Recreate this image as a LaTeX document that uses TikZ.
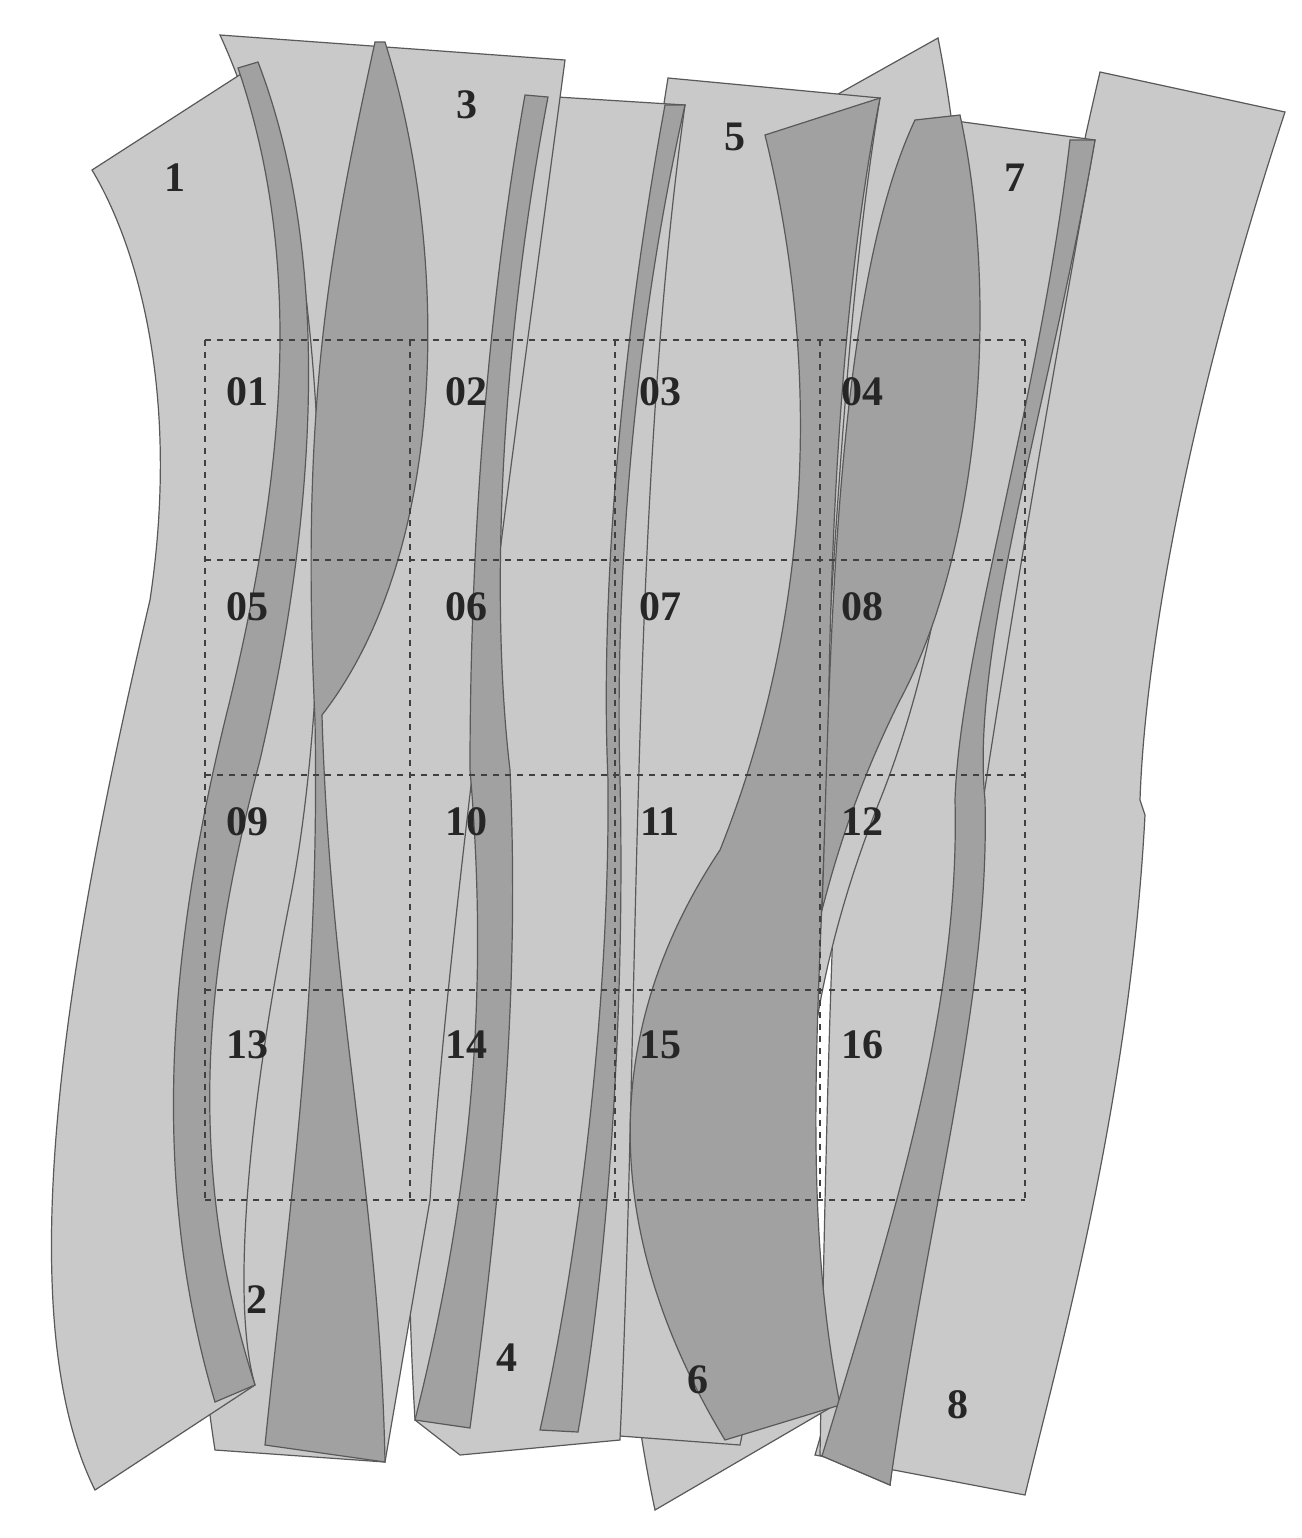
\documentclass[tikz,border=0pt]{standalone}
\usepackage{fontspec}
\setmainfont{Liberation Serif}
\begin{document}
\begin{tikzpicture}[x=0.5pt,y=-0.5pt,
  lite/.style={fill=black!21,draw=black!65,line width=0.6pt},
  dark/.style={fill=black!37,draw=black!65,line width=0.6pt},
  grid/.style={draw=black!75,dashed,line width=0.8pt},
  lab/.style={font=\fontsize{21}{21}\selectfont\bfseries,text=black!85}]
\useasboundingbox (0,0) rectangle (1302,1538);
\fill[white] (0,0) rectangle (1302,1538);
% light strips
\path[lite] (1100,72) -- (1285,112) .. controls (1190,400) and (1145,650) .. (1140,800) -- (1145,815) .. controls (1130,1100) and (1060,1350) .. (1025,1495) -- (815,1455) .. controls (950,1000) and (1000,500) .. (1100,72) -- cycle;
\path[lite] (912,115) -- (1095,140) .. controls (1030,500) and (960,900) .. (890,1485) -- (820,1455) .. controls (830,900) and (840,500) .. (912,115) -- cycle;
\path[lite] (765,135) -- (938,38) .. controls (990,300) and (960,600) .. (880,800) .. controls (800,1000) and (780,1200) .. (835,1405) -- (655,1510) .. controls (600,1250) and (620,1000) .. (740,700) .. controls (820,450) and (800,250) .. (765,135) -- cycle;
\path[lite] (668,78) -- (880,98) .. controls (830,400) and (830,800) .. (790,1100) .. controls (770,1250) and (760,1350) .. (740,1445) -- (540,1430) .. controls (600,1100) and (600,500) .. (668,78) -- cycle;
\path[lite] (525,95) -- (685,105) .. controls (630,500) and (640,1000) .. (620,1440) -- (460,1455) -- (415,1420) .. controls (390,1000) and (440,500) .. (525,95) -- cycle;
\path[lite] (220,35) -- (565,60) .. controls (520,400) and (450,900) .. (430,1200) -- (385,1462) -- (215,1450) .. controls (160,1100) and (250,700) .. (290,300) .. controls (280,200) and (250,100) .. (220,35) -- cycle;
\path[lite] (92,170) -- (255,65) .. controls (340,300) and (330,700) .. (290,900) .. controls (250,1100) and (230,1300) .. (255,1385) -- (95,1490) .. controls (0,1300) and (80,900) .. (150,600) .. controls (180,400) and (140,250) .. (92,170) -- cycle;
% dark bands
\path[dark] (238,68) -- (258,62) .. controls (330,250) and (320,500) .. (260,760) .. controls (210,950) and (180,1150) .. (255,1385) -- (215,1402) .. controls (140,1150) and (180,900) .. (230,700) .. controls (290,450) and (300,250) .. (238,68) -- cycle;
\path[dark] (375,42) -- (385,42) .. controls (450,250) and (450,550) .. (322,715) .. controls (330,1000) and (380,1200) .. (385,1462) -- (265,1445) .. controls (290,1200) and (320,1000) .. (315,720) .. controls (300,400) and (330,250) .. (375,42) -- cycle;
\path[dark] (525,95) -- (548,97) .. controls (500,350) and (490,600) .. (510,770) .. controls (520,1000) and (500,1200) .. (470,1428) -- (415,1420) .. controls (470,1200) and (490,1000) .. (470,770) .. controls (470,600) and (480,350) .. (525,95) -- cycle;
\path[dark] (665,105) -- (685,105) .. controls (630,350) and (615,600) .. (620,780) .. controls (625,1000) and (610,1250) .. (578,1432) -- (540,1430) .. controls (580,1250) and (610,1000) .. (608,780) .. controls (600,600) and (620,350) .. (665,105) -- cycle;
\path[dark] (765,135) -- (880,98) .. controls (840,300) and (830,550) .. (828,750) .. controls (820,1000) and (800,1200) .. (840,1405) -- (725,1440) .. controls (580,1200) and (620,1000) .. (720,850) .. controls (800,650) and (830,400) .. (765,135) -- cycle;
\path[dark] (915,120) -- (960,115) .. controls (1000,300) and (980,550) .. (900,700) .. controls (850,800) and (830,880) .. (822,910) .. controls (830,700) and (830,300) .. (915,120) -- cycle;
\path[dark] (1070,140) -- (1095,140) .. controls (1050,400) and (970,650) .. (985,800) .. controls (990,1000) and (930,1200) .. (890,1485) -- (822,1456) .. controls (900,1200) and (960,1000) .. (955,800) .. controls (960,650) and (1040,400) .. (1070,140) -- cycle;
% grid
\foreach \x in {205,410,615,820,1025} \draw[grid] (\x,340) -- (\x,1200);
\foreach \y in {340,560,775,990,1200} \draw[grid] (205,\y) -- (1025,\y);
\foreach \n/\x/\y in {01/247/392,02/466/392,03/660/392,04/862/392,05/247/607,06/466/607,07/660/607,08/862/607,09/247/822,10/466/822,11/660/822,12/862/822,13/247/1045,14/466/1045,15/660/1045,16/862/1045}
  \node[lab] (c\n) at (\x,\y) {\n};
\node[lab] (s1) at (175,178) {1};
\node[lab] (s2) at (257,1300) {2};
\node[lab] (s3) at (467,105) {3};
\node[lab] (s4) at (507,1358) {4};
\node[lab] (s5) at (735,137) {5};
\node[lab] (s6) at (698,1380) {6};
\node[lab] (s7) at (1015,178) {7};
\node[lab] (s8) at (958,1405) {8};
\end{tikzpicture}
\end{document}
